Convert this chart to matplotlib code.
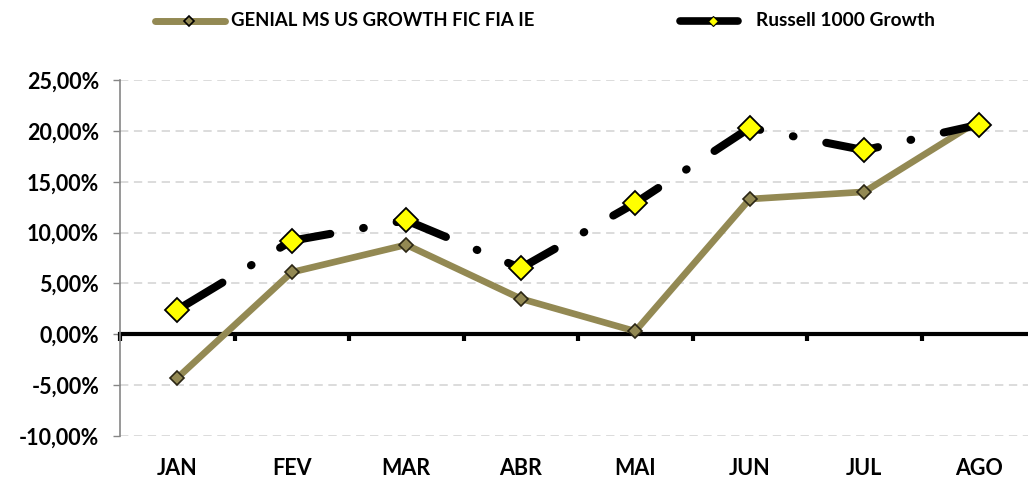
import matplotlib
matplotlib.use("Agg")
import matplotlib.pyplot as plt
from matplotlib.lines import Line2D
from matplotlib.ticker import FuncFormatter, FixedLocator

plt.rcParams['font.family'] = ['Lato', 'DejaVu Sans']
plt.rcParams['font.weight'] = 'bold'
plt.rcParams['lines.scale_dashes'] = False

# monthly cumulative returns (%)
months = ["JAN", "FEV", "MAR", "ABR", "MAI", "JUN", "JUL", "AGO"]
genial = [-4.3, 6.1, 8.8, 3.5, 0.3, 13.3, 14.0, 21.0]
russell = [2.4, 9.2, 11.2, 6.5, 12.9, 20.3, 18.1, 20.6]
genial_name = "GENIAL MS US GROWTH FIC FIA IE"
russell_name = "Russell 1000 Growth"

olive = "#938953"

W, H = 1028, 479
fig = plt.figure(figsize=(W / 100, H / 100), dpi=100)
ax = fig.add_axes([120 / W, 43 / H, 916 / W, 356 / H])

x = list(range(len(months)))

# fund line
ax.plot(x, genial, color=olive, lw=4.8, solid_joinstyle='round', zorder=3)
ax.plot(x, genial, ls='none', marker='D', ms=7, mfc=olive, mec="#2b2614",
        mew=1.2, zorder=5)

# benchmark line: long dash / dot pattern
ax.plot(x, russell, color='black', lw=5.8, dash_capstyle='round',
        ls=(0, (38, 24, 0.5, 24)), zorder=4)
ax.plot(x, russell, ls='none', marker='D', ms=12, mfc='#ffff00', mec='black',
        mew=1.3, zorder=6)

ax.set_xlim(-0.5, 7.5)
ax.set_ylim(-10, 25)

ax.set_yticks(range(-10, 26, 5))
ax.yaxis.set_major_formatter(FuncFormatter(lambda v, p: f"{v:.2f}%".replace('.', ',')))
ax.tick_params(axis='y', direction='out', length=5, width=1, color='#868686',
               labelsize=15.5, pad=10)
ax.yaxis.grid(True, color='#d9d9d9', lw=1.3, ls=(0, (6, 4)))
ax.set_axisbelow(True)

# zero line with category boundary ticks
for s in ['top', 'right']:
    ax.spines[s].set_visible(False)
ax.spines['left'].set_color('#868686')
ax.spines['left'].set_linewidth(1.2)
ax.spines['bottom'].set_position(('data', 0))
ax.spines['bottom'].set_linewidth(3)
ax.spines['bottom'].set_color('black')
ax.spines['bottom'].set_zorder(2)
ax.xaxis.set_major_locator(FixedLocator([i - 0.5 for i in range(len(months) + 1)]))
ax.tick_params(axis='x', direction='out', length=5, width=3, color='black',
               labelbottom=False)

for i, m in enumerate(months):
    ax.text(i, -0.09, m, transform=ax.get_xaxis_transform(), ha='center',
            va='center', fontsize=15.5, fontweight='bold')

# legend
fy = 1 - 21 / H
fig.add_artist(Line2D([155 / W, 225 / W], [fy, fy], color=olive, lw=5,
                      solid_capstyle='round', transform=fig.transFigure))
fig.add_artist(Line2D([189 / W], [fy], ls='none', marker='D', ms=5, mfc=olive,
                      mec='black', mew=1.2, transform=fig.transFigure))
fig.text(231 / W, fy, genial_name, ha='left', va='center', fontsize=13.3,
         fontweight='bold')
fig.add_artist(Line2D([680 / W, 738 / W], [fy, fy], color='black', lw=5.5,
                      solid_capstyle='round', transform=fig.transFigure))
fig.add_artist(Line2D([713 / W], [fy], ls='none', marker='D', ms=5, mfc='#ffff00',
                      mec='black', mew=0.8, transform=fig.transFigure))
fig.text(756 / W, fy, russell_name, ha='left', va='center', fontsize=13.8,
         fontweight='bold')

fig.savefig("out.png", dpi=100)
